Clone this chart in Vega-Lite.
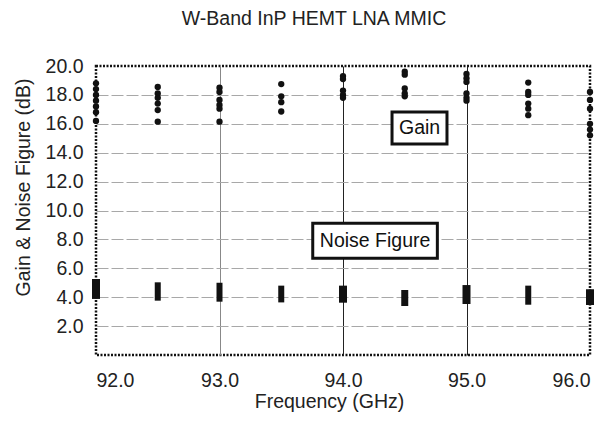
{
  "$schema": "https://vega.github.io/schema/vega-lite/v6.json",
  "width": 494,
  "height": 289,
  "autosize": "none",
  "padding": {"left": 96, "top": 66, "right": 17, "bottom": 66},
  "background": "white",
  "title": {
    "text": "W-Band InP HEMT LNA MMIC",
    "font": "Liberation Sans",
    "fontSize": 19.5,
    "fontWeight": "normal",
    "color": "#222",
    "dx": -29,
    "offset": 27
  },
  "config": {
    "font": "Liberation Sans",
    "view": {"stroke": "#111", "strokeDash": [2, 1.5], "strokeWidth": 2.5},
    "axis": {
      "labelFont": "Liberation Sans",
      "titleFont": "Liberation Sans",
      "labelFontSize": 19.5,
      "titleFontSize": 19.5,
      "titleFontWeight": "normal",
      "labelColor": "#222",
      "titleColor": "#222",
      "labelOverlap": false,
      "domain": false,
      "ticks": false
    }
  },
  "datasets": {
    "gain": [
      {"freq": 92.0, "value": 18.8}, {"freq": 92.0, "value": 18.4}, {"freq": 92.0, "value": 18.0}, {"freq": 92.0, "value": 17.6}, {"freq": 92.0, "value": 17.2}, {"freq": 92.0, "value": 16.8}, {"freq": 92.0, "value": 16.2},
      {"freq": 92.5, "value": 18.55}, {"freq": 92.5, "value": 18.1}, {"freq": 92.5, "value": 17.8}, {"freq": 92.5, "value": 17.4}, {"freq": 92.5, "value": 16.95}, {"freq": 92.5, "value": 16.15},
      {"freq": 93.0, "value": 18.5}, {"freq": 93.0, "value": 18.2}, {"freq": 93.0, "value": 17.65}, {"freq": 93.0, "value": 17.3}, {"freq": 93.0, "value": 17.05}, {"freq": 93.0, "value": 16.15},
      {"freq": 93.5, "value": 18.75}, {"freq": 93.5, "value": 17.9}, {"freq": 93.5, "value": 17.5}, {"freq": 93.5, "value": 16.85},
      {"freq": 94.0, "value": 19.3}, {"freq": 94.0, "value": 19.1}, {"freq": 94.0, "value": 18.3}, {"freq": 94.0, "value": 18.0}, {"freq": 94.0, "value": 17.8},
      {"freq": 94.5, "value": 19.6}, {"freq": 94.5, "value": 19.4}, {"freq": 94.5, "value": 18.45}, {"freq": 94.5, "value": 18.1}, {"freq": 94.5, "value": 17.9},
      {"freq": 95.0, "value": 19.45}, {"freq": 95.0, "value": 19.15}, {"freq": 95.0, "value": 18.9}, {"freq": 95.0, "value": 18.1}, {"freq": 95.0, "value": 17.8}, {"freq": 95.0, "value": 17.6},
      {"freq": 95.5, "value": 18.85}, {"freq": 95.5, "value": 18.2}, {"freq": 95.5, "value": 18.0}, {"freq": 95.5, "value": 17.4}, {"freq": 95.5, "value": 17.05}, {"freq": 95.5, "value": 16.6},
      {"freq": 96.0, "value": 18.2}, {"freq": 96.0, "value": 17.65}, {"freq": 96.0, "value": 17.05}, {"freq": 96.0, "value": 16.0}, {"freq": 96.0, "value": 15.6}, {"freq": 96.0, "value": 15.2}
    ],
    "noise": [
      {"freq": 92.0, "low": 3.88, "high": 5.26, "w": 8},
      {"freq": 92.5, "low": 3.76, "high": 5.03, "w": 6},
      {"freq": 93.0, "low": 3.69, "high": 5.0, "w": 6},
      {"freq": 93.5, "low": 3.64, "high": 4.8, "w": 6},
      {"freq": 94.0, "low": 3.62, "high": 4.8, "w": 8},
      {"freq": 94.5, "low": 3.39, "high": 4.5, "w": 7},
      {"freq": 95.0, "low": 3.53, "high": 4.84, "w": 8},
      {"freq": 95.5, "low": 3.48, "high": 4.8, "w": 6},
      {"freq": 96.0, "low": 3.46, "high": 4.55, "w": 8}
    ],
    "labels": [
      {"label": "Gain", "x": 94.62, "y": 15.7, "x1": 94.397, "x2": 94.842, "y1": 16.82, "y2": 14.6},
      {"label": "Noise Figure", "x": 94.26, "y": 7.89, "x1": 93.755, "x2": 94.764, "y1": 9.11, "y2": 6.69}
    ]
  },
  "layer": [
    {
      "data": {"name": "gain"},
      "mark": {"type": "circle", "color": "#111", "opacity": 1, "size": 40},
      "encoding": {
        "x": {
          "field": "freq", "type": "quantitative",
          "scale": {"domain": [92, 96], "nice": false, "zero": false},
          "axis": {
            "title": "Frequency (GHz)",
            "values": [92, 93, 94, 95, 96],
            "tickCount": 20,
            "format": ".1f",
            "labelPadding": 16,
            "labelOverlap": false,
            "grid": true,
            "gridColor": {"condition": {"test": "datum.value == 93", "value": "#888"}, "value": "#222"},
            "gridWidth": 1,
            "gridOpacity": {"condition": {"test": "datum.value == 92 || datum.value == 96", "value": 0}, "value": 1},
            "titleX": 233,
            "titleY": 52,
            "titleBaseline": "alphabetic"
          }
        },
        "y": {
          "field": "value", "type": "quantitative",
          "scale": {"domain": [0, 20], "nice": false},
          "axis": {
            "title": "Gain & Noise Figure (dB)",
            "values": [2, 4, 6, 8, 10, 12, 14, 16, 18, 20],
            "tickCount": 20,
            "format": ".1f",
            "labelPadding": 13,
            "labelOverlap": false,
            "labelBound": false,
            "labelFlush": false,
            "grid": true,
            "gridColor": "#a8a8a8",
            "gridDash": [12, 3],
            "gridWidth": 1,
            "gridOpacity": {"condition": {"test": "datum.value == 20", "value": 0}, "value": 1},
            "titleX": -63,
            "titleY": 121
          }
        }
      }
    },
    {
      "data": {"name": "noise"},
      "mark": {"type": "rule", "color": "#111", "strokeCap": "butt"},
      "encoding": {
        "x": {"field": "freq", "type": "quantitative"},
        "y": {"field": "low", "type": "quantitative"},
        "y2": {"field": "high"},
        "strokeWidth": {"field": "w", "type": "quantitative", "scale": null, "legend": null}
      }
    },
    {
      "data": {"name": "labels"},
      "mark": {"type": "rect", "fill": "white", "stroke": "#111", "strokeWidth": 3},
      "encoding": {
        "x": {"field": "x1", "type": "quantitative"},
        "x2": {"field": "x2"},
        "y": {"field": "y1", "type": "quantitative"},
        "y2": {"field": "y2"}
      }
    },
    {
      "data": {"name": "labels"},
      "mark": {"type": "text", "font": "Liberation Sans", "fontSize": 19.5, "color": "#111", "align": "center", "baseline": "middle"},
      "encoding": {
        "x": {"field": "x", "type": "quantitative"},
        "y": {"field": "y", "type": "quantitative"},
        "text": {"field": "label"}
      }
    }
  ]
}
